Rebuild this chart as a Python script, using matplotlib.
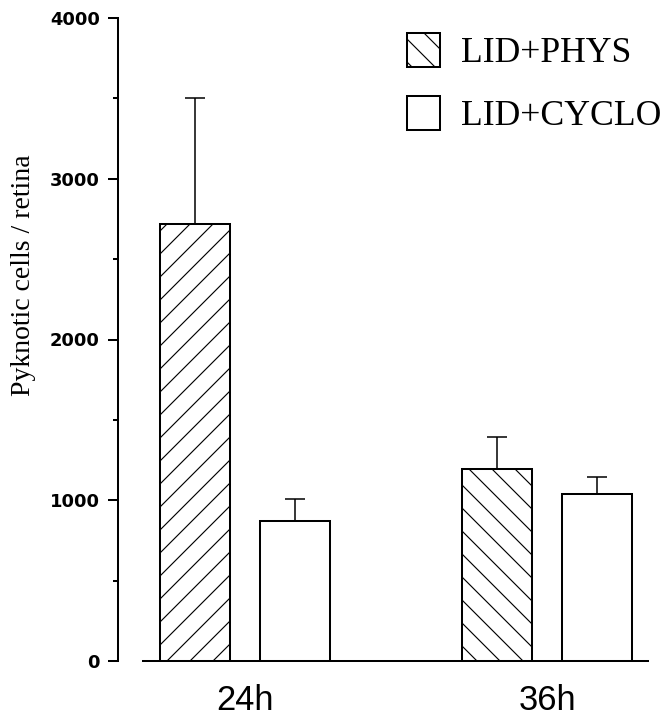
import matplotlib.pyplot as plt
import matplotlib.patches as mpatches
import numpy as np

# === Data ===
groups = ["24h", "36h"]
phys = [2720, 1195]
phys_err = [780, 200]
cyclo = [870, 1040]
cyclo_err = [140, 105]
series_labels = ["LID+PHYS", "LID+CYCLO"]

# === Styling ===
DPI = 138
plt.rcParams.update({
    "font.family": "Liberation Serif",
    "hatch.linewidth": 0.6,
    "axes.linewidth": 1.05,
})

fig = plt.figure(figsize=(669 / DPI, 719 / DPI), dpi=DPI)
ax = fig.add_axes([118 / 669, 58 / 719, 530 / 669, 643 / 719])

x = np.arange(len(groups))
off = 0.1656
w = 0.232

b1 = ax.bar(x - off, phys, width=w, facecolor="white", edgecolor="black",
            linewidth=1.05, hatch="\\\\", zorder=2)
b1[0].set_hatch("//")  # 24h bar drawn with the other diagonal in the original
b2 = ax.bar(x + off, cyclo, width=w, facecolor="white", edgecolor="black",
            linewidth=1.05, zorder=2)

ax.errorbar(x - off, phys, yerr=[np.zeros(len(phys)), phys_err], fmt="none",
            ecolor="black", elinewidth=0.8, capsize=5.2, capthick=0.8, zorder=1)
ax.errorbar(x + off, cyclo, yerr=[np.zeros(len(cyclo)), cyclo_err], fmt="none",
            ecolor="black", elinewidth=0.8, capsize=5.2, capthick=0.8, zorder=1)

# === Axes ===
ax.set_ylim(0, 4000)
ax.set_xlim(-0.4205, 1.334)
ax.spines["top"].set_visible(False)
ax.spines["right"].set_visible(False)
ax.spines["bottom"].set_bounds(-0.338, 1.334)

ax.set_yticks([0, 1000, 2000, 3000, 4000])
ax.set_yticks([500, 1500, 2500, 3500], minor=True)
ax.tick_params(axis="y", which="major", length=5.2, width=1.05, pad=4.2,
               labelsize=9.3)
ax.tick_params(axis="y", which="minor", length=2.6, width=1.05)
for lab in ax.get_yticklabels():
    lab.set_fontfamily("DejaVu Sans")
    lab.set_fontweight("bold")

ax.set_xticks(x)
ax.set_xticklabels(groups, fontfamily="Liberation Sans", fontsize=18)
ax.tick_params(axis="x", length=0, pad=12)
ax.get_xticklabels()[0].set_x(0.02)

ax.set_ylabel("Pyknotic cells / retina", fontsize=14.5, va="center")
ax.yaxis.set_label_coords(-0.179, 0.60)

# === Legend ===
handles = [
    mpatches.Patch(facecolor="white", edgecolor="black", linewidth=1.05, hatch="\\\\"),
    mpatches.Patch(facecolor="white", edgecolor="black", linewidth=1.05),
]
fig.legend(handles, series_labels, loc="upper left",
           bbox_to_anchor=(407 / 669, 1 - 33 / 719), frameon=False,
           fontsize=18.6, borderpad=0, handlelength=0.93, handleheight=1.1,
           handletextpad=0.58, labelspacing=0.72, borderaxespad=0)

fig.savefig("out.png", dpi=DPI)
